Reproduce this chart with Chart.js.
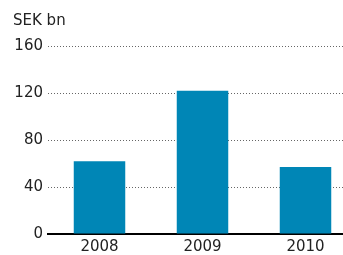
<!DOCTYPE html>
<html>
<head>
<meta charset="utf-8">
<script src="https://cdn.jsdelivr.net/npm/chart.js@4"></script>
<style>
  html, body { margin: 0; padding: 0; background: #fff; overflow: hidden; }
  #wrap { width: 357px; height: 255px; }
</style>
</head>
<body>
<div id="wrap"><canvas id="chart"></canvas></div>
<script>
// Data
const years = ['2008', '2009', '2010'];
const values = [62, 122, 57];
const yTicks = [0, 40, 80, 120, 160];

const textColor = '#222';
const fontFamily = '"DejaVu Sans", sans-serif';

new Chart(document.getElementById('chart'), {
    type: 'bar',
    data: {
        labels: years,
        datasets: [{
            label: 'SEK bn',
            data: values,
            backgroundColor: '#0086b6',
            barPercentage: 0.5,
            categoryPercentage: 1,
        }],
    },
    options: {
        responsive: true,
        maintainAspectRatio: false,
        animation: false,
        layout: { padding: { left: 13, right: 0, top: 0, bottom: 0 } },
        plugins: {
            legend: { display: false },
            tooltip: { enabled: false },
            title: {
                display: true,
                text: 'SEK bn',
                align: 'start',
                color: textColor,
                font: { family: fontFamily, size: 15, weight: 'normal' },
                padding: { top: 12, bottom: 16 },
            },
        },
        scales: {
            x: {
                afterFit: axis => { axis.height = 21; },
                grid: { display: false, drawTicks: false },
                border: { display: true, color: '#000', width: 2 },
                ticks: { color: textColor, padding: 4, font: { family: fontFamily, size: 15 } },
            },
            y: {
                min: yTicks[0],
                max: yTicks[yTicks.length - 1],
                afterBuildTicks: axis => { axis.ticks = yTicks.map(v => ({ value: v })); },
                afterFit: axis => { axis.width = 35; },
                grid: { color: '#666', lineWidth: 1, drawTicks: false },
                border: { display: false, dash: [1, 2] },
                ticks: { color: textColor, padding: 5, font: { family: fontFamily, size: 15 } },
            },
        },
    },
});
</script>
</body>
</html>
